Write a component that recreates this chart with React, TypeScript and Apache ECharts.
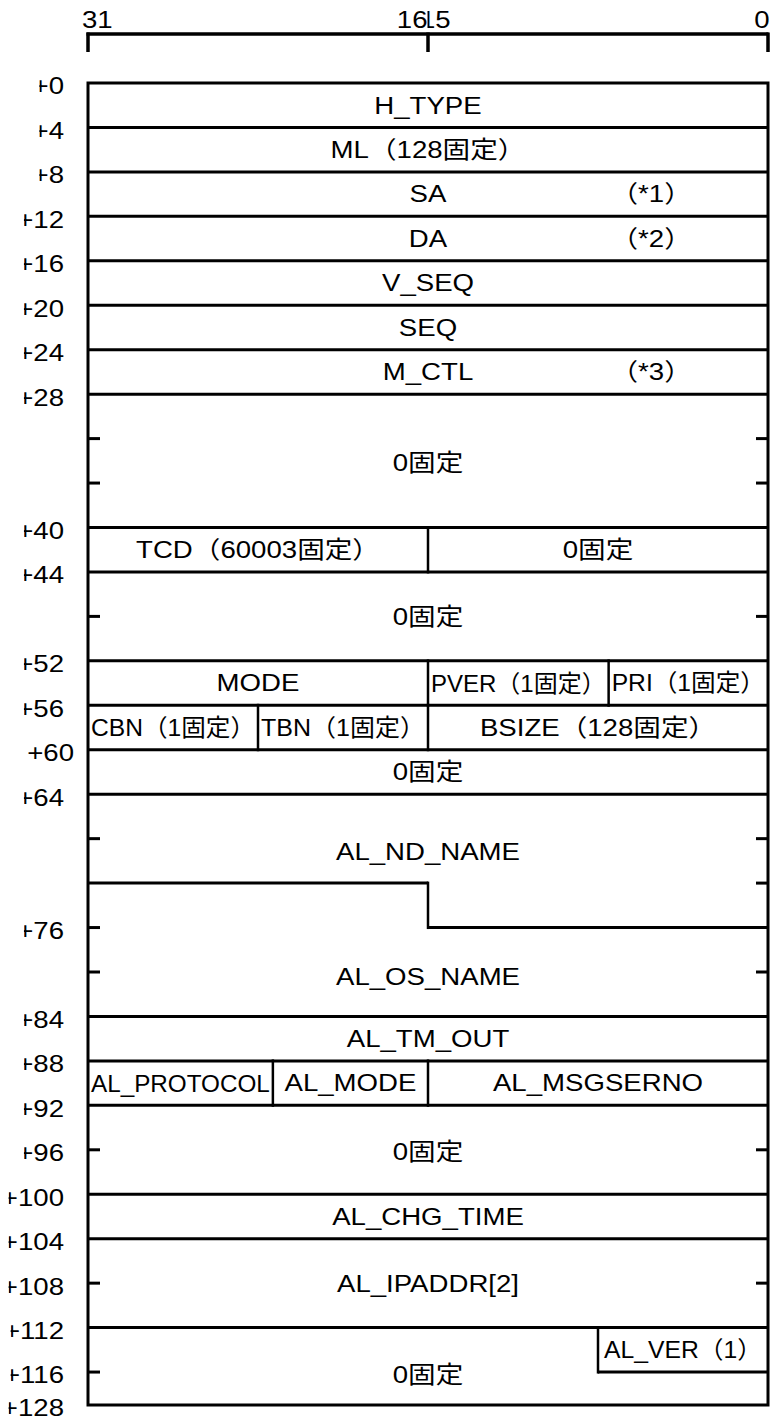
import React, { useEffect, useRef } from "react";
import * as echarts from "echarts";

// ---------- data ----------
const bitMax = 32;
const rowMax = 30;
const bottomRow = 29.74;

const rulerTickBits = [32, 16, 0];
const rulerLabels = ["31", "16", "15", "0"];

const offsetLabels = ["+0", "+4", "+8", "+12", "+16", "+20", "+24", "+28", "+40", "+44", "+52", "+56", "+60", "+64", "+76", "+84", "+88", "+92", "+96", "+100", "+104", "+108", "+112", "+116", "+128"];
const offsetRows = [0, 1, 2, 3, 4, 5, 6, 7, 10, 11, 13, 14, 15, 16, 19, 21, 22, 23, 24, 25, 26, 27, 28, 29, bottomRow];

// horizontal separators: [row, bitFrom, bitTo]
const hLines = [
  [1, 32, 0], [2, 32, 0], [3, 32, 0], [4, 32, 0], [5, 32, 0], [6, 32, 0], [7, 32, 0],
  [10, 32, 0], [11, 32, 0], [13, 32, 0], [14, 32, 0], [15, 32, 0], [16, 32, 0],
  [18, 32, 16], [19, 16, 0], [21, 32, 0], [22, 32, 0], [23, 32, 0], [25, 32, 0],
  [26, 32, 0], [28, 32, 0], [29, 8, 0],
];
// vertical separators: [bit, rowFrom, rowTo]
const vLines = [
  [16, 10, 11], [16, 13, 14], [7.5, 13, 14], [24, 14, 15], [16, 14, 15],
  [16, 18, 19], [23.3, 22, 23], [16, 22, 23], [8, 28, 29],
];

const leftTickRows = [8, 9, 12, 17, 19, 20, 24, 27, 29];
const rightTickRows = [8, 9, 12, 17, 18, 20, 24, 27];

const fieldNames = [
  "H_TYPE", "ML（128固定）", "SA", "DA", "V_SEQ", "SEQ", "M_CTL", "0固定",
  "TCD（60003固定）", "0固定", "0固定", "MODE", "PVER（1固定）", "PRI（1固定）",
  "CBN（1固定）", "TBN（1固定）", "BSIZE（128固定）", "0固定", "AL_ND_NAME", "AL_OS_NAME",
  "AL_TM_OUT", "AL_PROTOCOL", "AL_MODE", "AL_MSGSERNO", "0固定", "AL_CHG_TIME",
  "AL_IPADDR[2]", "0固定",
];
const fieldHiBits = [32, 32, 32, 32, 32, 32, 32, 32, 32, 16, 32, 32, 16, 7.5, 32, 24, 16, 32, 32, 32, 32, 32, 23.3, 16, 32, 32, 32, 32];
const fieldLoBits = [0, 0, 0, 0, 0, 0, 0, 0, 16, 0, 0, 16, 7.5, 0, 24, 16, 0, 0, 0, 0, 0, 23.3, 16, 0, 0, 0, 0, 0];
const fieldRows = [0.5, 1.5, 2.5, 3.5, 4.5, 5.5, 6.5, 8.55, 10.5, 10.5, 12, 13.5, 13.5, 13.5, 14.5, 14.5, 14.5, 15.5, 17.3, 20.1, 21.5, 22.5, 22.5, 22.5, 24.05, 25.5, 27, 29.05];

const noteTexts = ["（*1）", "（*2）", "（*3）"];
const noteBits = [5.5, 5.5, 5.5];
const noteRows = [2.5, 3.5, 6.5];

const sideLabelText = "AL_VER（1）";
const sideLabelBit = 8;
const sideLabelRow = 28.5;

// ---------- styles ----------
const FONT_FAMILY = '"Liberation Sans", Arial, "Noto Sans CJK JP", sans-serif';
const FONT_SIZE = 24;
const STRETCH = 1.15;
const INK = "#000";
const RULER_Y = 34;
const SHIFTED_LABEL = "+60";

let measureCtx: CanvasRenderingContext2D | null = null;
function measure(t: string): number {
  if (!measureCtx) measureCtx = document.createElement("canvas").getContext("2d");
  if (!measureCtx) return t.length * FONT_SIZE * 0.6;
  measureCtx.font = `${FONT_SIZE}px ${FONT_FAMILY}`;
  return measureCtx.measureText(t).width;
}

function txt(text: string, x: number, y: number, align: string, scale: number, extra: any = {}) {
  return {
    type: "text",
    x,
    y,
    scaleX: scale,
    style: {
      text,
      x: 0,
      y: 0,
      fill: INK,
      fontSize: FONT_SIZE,
      fontFamily: FONT_FAMILY,
      align,
      verticalAlign: "middle",
      ...extra,
    },
  };
}

function line(x1: number, y1: number, x2: number, y2: number, w = 3) {
  return { type: "line", shape: { x1, y1, x2, y2 }, style: { stroke: INK, lineWidth: w } };
}

export default function App() {
  const ref = useRef<HTMLDivElement>(null);
  useEffect(() => {
    document.body.style.margin = "0";
    if (!ref.current) return;
    const chart = echarts.init(ref.current, null, { renderer: "svg" });
    const option: any = {
      animation: false,
      backgroundColor: "#fff",
      grid: { left: 88, top: 83, width: 680, height: rowMax * 44.45 },
      xAxis: { type: "value", min: 0, max: bitMax, inverse: true, show: false },
      yAxis: { type: "value", min: 0, max: rowMax, inverse: true, show: false },
      series: [
        {
          type: "custom",
          name: "frame",
          clip: false,
          data: [[0, 0]],
          renderItem: (_p: any, api: any) => {
            const a = api.coord([bitMax, 0]);
            const b = api.coord([0, bottomRow]);
            return {
              type: "rect",
              shape: { x: a[0], y: a[1], width: b[0] - a[0], height: b[1] - a[1] },
              style: { fill: "none", stroke: INK, lineWidth: 3 },
            };
          },
        },
        {
          type: "custom",
          name: "hlines",
          clip: false,
          data: hLines.map((d) => [d[1], d[0]]),
          renderItem: (p: any, api: any) => {
            const [row, b1, b2] = hLines[p.dataIndex];
            const a = api.coord([b1, row]);
            const b = api.coord([b2, row]);
            return line(a[0], a[1], b[0], b[1], 3);
          },
        },
        {
          type: "custom",
          name: "vlines",
          clip: false,
          data: vLines.map((d) => [d[0], d[1]]),
          renderItem: (p: any, api: any) => {
            const [bit, r1, r2] = vLines[p.dataIndex];
            const a = api.coord([bit, r1]);
            const b = api.coord([bit, r2]);
            return line(a[0], a[1] - 1.5, b[0], b[1] + 1.5, 2.5);
          },
        },
        {
          type: "custom",
          name: "ticks",
          clip: false,
          data: [...leftTickRows.map((r) => [bitMax, r]), ...rightTickRows.map((r) => [0, r])],
          renderItem: (p: any, api: any) => {
            const i = p.dataIndex;
            const left = i < leftTickRows.length;
            const row = left ? leftTickRows[i] : rightTickRows[i - leftTickRows.length];
            const a = api.coord([left ? bitMax : 0, row]);
            return line(a[0], a[1], a[0] + (left ? 12 : -12), a[1], 3);
          },
        },
        {
          type: "custom",
          name: "fields",
          clip: false,
          data: fieldNames.map((_n, i) => [fieldHiBits[i], fieldRows[i]]),
          renderItem: (p: any, api: any) => {
            const i = p.dataIndex;
            const a = api.coord([fieldHiBits[i], fieldRows[i]]);
            const b = api.coord([fieldLoBits[i], fieldRows[i]]);
            const cellW = b[0] - a[0];
            const w = measure(fieldNames[i]);
            const s = Math.min(STRETCH, (cellW - 6) / w);
            return txt(fieldNames[i], (a[0] + b[0]) / 2, a[1], "center", s);
          },
        },
        {
          type: "custom",
          name: "notes",
          clip: false,
          data: noteTexts.map((_n, i) => [noteBits[i], noteRows[i]]),
          renderItem: (p: any, api: any) => {
            const i = p.dataIndex;
            const a = api.coord([noteBits[i], noteRows[i]]);
            return txt(noteTexts[i], a[0], a[1], "center", STRETCH);
          },
        },
        {
          type: "custom",
          name: "side",
          clip: false,
          data: [[sideLabelBit, sideLabelRow]],
          renderItem: (_p: any, api: any) => {
            const a = api.coord([sideLabelBit, sideLabelRow]);
            const r = api.coord([0, sideLabelRow]);
            const avail = r[0] - a[0] - 12;
            const s = Math.min(STRETCH, avail / measure(sideLabelText));
            return txt(sideLabelText, a[0] + 6, a[1], "left", s);
          },
        },
        {
          type: "custom",
          name: "offsets",
          clip: false,
          data: offsetRows.map((r) => [bitMax, r]),
          renderItem: (p: any, api: any) => {
            const i = p.dataIndex;
            const label = offsetLabels[i];
            const a = api.coord([bitMax, offsetRows[i]]);
            const y = a[1] + 3;
            if (label === SHIFTED_LABEL) {
              return txt(label, 74, y, "right", STRETCH);
            }
            const right = 64;
            const left = right - measure(label) * STRETCH;
            const plusW = measure("+") * STRETCH;
            return {
              type: "group",
              children: [
                txt(label, right, y, "right", STRETCH),
                {
                  type: "rect",
                  shape: { x: left - 3, y: y - 12, width: plusW * 0.42 + 3, height: 24 },
                  style: { fill: "#fff" },
                },
              ],
            };
          },
        },
        {
          type: "custom",
          name: "ruler",
          clip: false,
          data: rulerTickBits.map((b) => [b, 0]),
          renderItem: (p: any, api: any) => {
            const i = p.dataIndex;
            const x = api.coord([rulerTickBits[i], 0])[0];
            const children: any[] = [line(x, RULER_Y - 1.5, x, RULER_Y + 18, 3.5)];
            if (i === 0) {
              const xr = api.coord([0, 0])[0];
              children.push(line(x - 1.5, RULER_Y, xr + 0.5, RULER_Y, 3.5));
              children.push(txt(rulerLabels[0], x - 6, 20, "left", STRETCH));
            } else if (i === 1) {
              children.push(txt(rulerLabels[2], x - 8, 20, "left", STRETCH));
              children.push(txt(rulerLabels[1], x - 0.5, 20, "right", STRETCH, { backgroundColor: "#fff" }));
            } else {
              children.push(txt(rulerLabels[3], x + 1.5, 20, "right", STRETCH));
            }
            return { type: "group", children };
          },
        },
      ],
    };
    chart.setOption(option);
    return () => chart.dispose();
  }, []);
  return <div ref={ref} style={{ position: "absolute", left: 0, top: 0, width: 770, height: 1421 }} />;
}
